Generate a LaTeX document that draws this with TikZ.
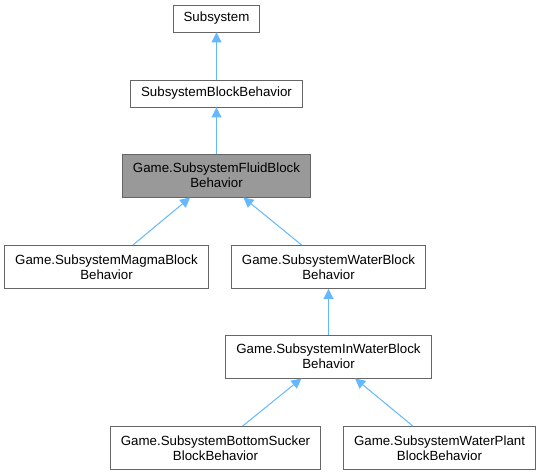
\documentclass[tikz,border=0pt]{standalone}
\usepackage{fontspec}
\setmainfont{Liberation Sans}
\usetikzlibrary{arrows.meta}
\definecolor{edgeblue}{HTML}{63B8FF}
\definecolor{boxline}{HTML}{666666}
\definecolor{boxgray}{HTML}{999999}
\begin{document}
\begin{tikzpicture}[x=1pt,y=-1pt,
box/.style={draw=boxline,fill=white,line width=0.9pt,align=center,inner xsep=10.5pt,inner ysep=0pt,
font=\fontsize{13.3}{15}\selectfont,minimum height=27pt},
twoline/.style={box,minimum height=43pt},
edge/.style={draw=edgeblue,line width=1pt,-{Triangle[length=10pt,width=10pt]}}]
\useasboundingbox (0,0) rectangle (540,475);
\node[box] (sub) at (216.5,18.5) {Subsystem};
\node[box] (sbb) at (216.5,93.5) {SubsystemBlockBehavior};
\node[twoline,fill=boxgray] (fluid) at (216.5,175.5) {Game.SubsystemFluidBlock\\Behavior};
\node[twoline] (magma) at (106.5,267) {Game.SubsystemMagmaBlock\\Behavior};
\node[twoline] (water) at (328.5,267) {Game.SubsystemWaterBlock\\Behavior};
\node[twoline] (inwater) at (328.5,356.5) {Game.SubsystemInWaterBlock\\Behavior};
\node[twoline] (sucker) at (215.5,448) {Game.SubsystemBottomSucker\\BlockBehavior};
\node[twoline] (plant) at (439.5,448) {Game.SubsystemWaterPlant\\BlockBehavior};
\draw[edge] (sbb)--(sub);\draw[edge] (fluid)--(sbb);
\draw[edge] (magma)--(fluid);\draw[edge] (water)--(fluid);
\draw[edge] (inwater)--(water);
\draw[edge] (sucker)--(inwater);\draw[edge] (plant)--(inwater);
\end{tikzpicture}
\end{document}
